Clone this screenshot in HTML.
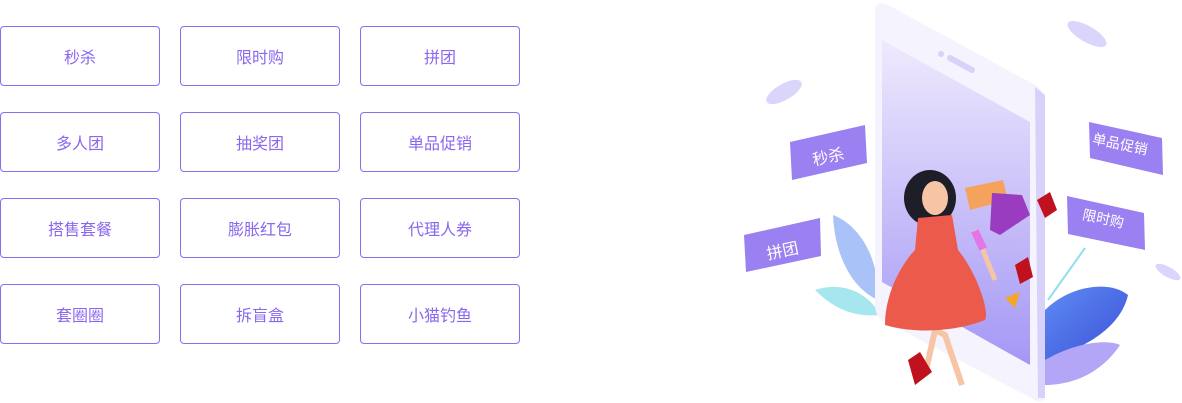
<!DOCTYPE html>
<html><head><meta charset="utf-8"><style>
body{margin:0;width:1182px;height:403px;background:#fff;position:relative;overflow:hidden;font-family:"Liberation Sans","Noto Sans CJK SC",sans-serif}
.b{position:absolute;width:158px;height:58px;border:1px solid #8b6cf2;border-radius:4px;box-sizing:content-box;color:#8a67ee;font-size:16px;display:flex;align-items:center;justify-content:center}
svg{position:absolute;left:0;top:0}
</style></head><body>
<div class="b" style="left:0;top:26px">秒杀</div>
<div class="b" style="left:180px;top:26px">限时购</div>
<div class="b" style="left:360px;top:26px">拼团</div>
<div class="b" style="left:0;top:112px">多人团</div>
<div class="b" style="left:180px;top:112px">抽奖团</div>
<div class="b" style="left:360px;top:112px">单品促销</div>
<div class="b" style="left:0;top:198px">搭售套餐</div>
<div class="b" style="left:180px;top:198px">膨胀红包</div>
<div class="b" style="left:360px;top:198px">代理人券</div>
<div class="b" style="left:0;top:284px">套圈圈</div>
<div class="b" style="left:180px;top:284px">拆盲盒</div>
<div class="b" style="left:360px;top:284px">小猫钓鱼</div>
<svg width="1182" height="403" viewBox="0 0 1182 403">
<defs>
<linearGradient id="sc" x1="0" y1="0" x2="0" y2="1"><stop offset="0" stop-color="#efeafd"/><stop offset="1" stop-color="#a497f5"/></linearGradient>
<linearGradient id="lf" x1="0" y1="0" x2="1" y2="1"><stop offset="0" stop-color="#5f8cf3"/><stop offset="1" stop-color="#3b4fd8"/></linearGradient>
</defs>
<ellipse cx="784" cy="92" rx="20" ry="8" fill="#d9d5fb" transform="rotate(-30 784 92)"/>
<ellipse cx="1087" cy="34" rx="22" ry="8" fill="#d9d5fb" transform="rotate(30 1087 34)"/>
<ellipse cx="1168" cy="272" rx="14" ry="5" fill="#d9d5fb" transform="rotate(30 1168 272)"/>
<path d="M833,215 C860,225 880,260 878,300 C855,290 835,260 833,215Z" fill="#a9c2f8"/>
<path d="M815,290 C845,280 870,295 880,315 C850,318 830,305 815,290Z" fill="#a6e6ef"/>
<path d="M875,8 Q878,0 888,5 L1035,85 Q1045,92 1045,102 L1045,398 Q1043,403 1035,400 L882,320 Q875,315 875,305Z" fill="#f5f3fe"/>
<path d="M1035,87 L1045,95 L1045,398 L1038,398Z" fill="#d8d2fb"/>
<path d="M882,40 L1030,122 L1030,365 L882,282Z" fill="url(#sc)"/>
<circle cx="941" cy="54" r="3" fill="#d8d2fb"/>
<path d="M950,58 L972,70" stroke="#d8d2fb" stroke-width="6" stroke-linecap="round"/>
<path d="M1045,310 C1070,285 1110,280 1128,295 C1120,330 1080,350 1045,360Z" fill="url(#lf)"/>
<path d="M1045,360 C1080,340 1110,340 1120,345 C1100,375 1070,385 1045,385Z" fill="#b4a6f6"/>
<path d="M1048,300 L1085,248" stroke="#8fe0ec" stroke-width="2"/>
<path d="M790,142 L865,125 L867,163 L792,180Z" fill="#9a80f0"/>
<path d="M744,235 L820,218 L821,256 L746,272Z" fill="#9a80f0"/>
<path d="M1089,122 L1162,138 L1163,175 L1090,158Z" fill="#9a80f0"/>
<path d="M1067,196 L1144,213 L1145,250 L1068,234Z" fill="#9a80f0"/>
<text x="812" y="162" fill="#fff" font-size="16" font-family="Noto Sans CJK SC,sans-serif" transform="rotate(-12 830 155)">秒杀</text>
<text x="766" y="256" fill="#fff" font-size="16" font-family="Noto Sans CJK SC,sans-serif" transform="rotate(-12 784 248)">拼团</text>
<text x="1092" y="150" fill="#fff" font-size="14" font-family="Noto Sans CJK SC,sans-serif" transform="rotate(12 1125 145)">单品促销</text>
<text x="1082" y="224" fill="#fff" font-size="14" font-family="Noto Sans CJK SC,sans-serif" transform="rotate(12 1105 220)">限时购</text>
<ellipse cx="930" cy="198" rx="26" ry="28" fill="#1e1e28"/>
<ellipse cx="935" cy="198" rx="13" ry="17" fill="#f6c5a6"/>
<path d="M925,375 L935,330 L945,335 L962,385" stroke="#f6c5a6" stroke-width="6" fill="none"/>
<path d="M975,230 L995,280" stroke="#f6c5a6" stroke-width="5"/>
<path d="M918,218 L952,215 L958,250 C975,270 990,310 985,320 C960,330 920,335 885,325 C885,290 905,260 915,250Z" fill="#ec5a4c"/>
<path d="M965,188 L1003,180 L1008,200 L970,210Z" fill="#f5a25d"/>
<path d="M992,193 L1022,195 L1030,215 L1000,235 L990,230Z" fill="#9a3cc0"/>
<path d="M1037,200 L1050,192 L1057,210 L1045,218Z" fill="#c0111f"/>
<path d="M1015,265 L1028,257 L1033,277 L1020,284Z" fill="#c0111f"/>
<path d="M908,360 L920,352 L932,372 L915,385Z" fill="#c0111f"/>
<path d="M1005,298 L1020,292 L1015,308Z" fill="#f5a623"/>
<rect x="975" y="230" width="8" height="20" fill="#e276e8" transform="rotate(-25 979 240)"/>
</svg>
</body></html>
